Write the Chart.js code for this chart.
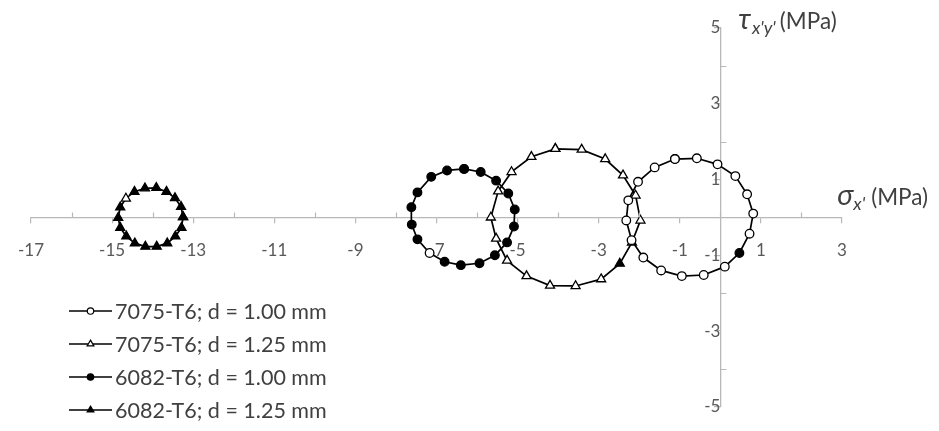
<!DOCTYPE html>
<html>
<head>
<meta charset="utf-8">
<script src="https://cdn.jsdelivr.net/npm/chart.js"></script>
<style>
  html, body { margin: 0; padding: 0; background: #fff; }
  #wrap { position: relative; width: 939px; height: 431px; }
</style>
</head>
<body>
<div id="wrap"><canvas id="c" width="939" height="431"></canvas></div>
<script>
// Mohr's circles: normal stress sigma_x' vs shear stress tau_x'y' (MPa)
const seriesLabels = [
  '7075-T6; d = 1.00 mm',
  '7075-T6; d = 1.25 mm',
  '6082-T6; d = 1.00 mm',
  '6082-T6; d = 1.25 mm'
];

// 7075-T6, d = 1.00 mm
const sigma7075_100 = [-1.12, -0.58, -0.07, 0.37, 0.66, 0.81, 0.72, 0.47, 0.11, -0.41, -0.95, -1.46, -1.90, -2.19, -2.32, -2.27, -2.03, -1.62];
const tau7075_100   = [1.54, 1.56, 1.40, 1.09, 0.61, 0.10, -0.43, -0.94, -1.30, -1.52, -1.55, -1.40, -1.06, -0.60, -0.08, 0.45, 0.94, 1.32];

// 7075-T6, d = 1.25 mm
const sigma7075_125 = [-4.07, -3.42, -2.84, -2.40, -2.09, -1.97, -2.18, -2.48, -2.94, -3.57, -4.20, -4.78, -5.26, -5.53, -5.66, -5.48, -5.15, -4.66];
const tau7075_125   = [1.81, 1.79, 1.54, 1.11, 0.58, -0.08, -0.66, -1.22, -1.63, -1.81, -1.80, -1.55, -1.14, -0.56, 0.00, 0.69, 1.20, 1.60];

// 6082-T6, d = 1.00 mm
const sigma6082_100 = [-6.32, -5.91, -5.53, -5.23, -5.07, -5.09, -5.26, -5.56, -5.94, -6.40, -6.80, -7.17, -7.47, -7.61, -7.62, -7.47, -7.13, -6.74];
const tau6082_100   = [1.28, 1.20, 0.97, 0.63, 0.21, -0.24, -0.66, -1.00, -1.21, -1.26, -1.17, -0.94, -0.58, -0.19, 0.27, 0.66, 1.07, 1.24];

// 6082-T6, d = 1.25 mm
const sigma6082_125 = [-13.25, -13.30, -13.45, -13.66, -13.91, -14.19, -14.45, -14.66, -14.80, -14.85, -14.80, -14.65, -14.44, -14.18, -13.90, -13.64, -13.44, -13.29];
const tau6082_125   = [0.01, 0.28, 0.51, 0.68, 0.78, 0.77, 0.68, 0.50, 0.27, -0.01, -0.27, -0.50, -0.68, -0.77, -0.77, -0.68, -0.50, -0.27];

// the one marker in each series drawn with the opposite fill
const markedPoint = [7, 7, 11, 7];

// axis ranges and labelled tick values
const sigmaMin = -17, sigmaMax = 3;
const tauMin = -5, tauMax = 5;
const sigmaTickLabels = [-17, -15, -13, -11, -9, -7, -5, -3, -1, 1, 3];
const tauTickLabels = [-5, -3, -1, 1, 3, 5];

const FONT = 'Lato, "Open Sans", "Liberation Sans", sans-serif';
const INK = '#000000';
const AXIS_GRAY = '#b8b8b8';
const LABEL_GRAY = '#595959';
const TEXT_DARK = '#404040';

// closed loop of points for one circle
function loop(xs, ys) {
  const pts = xs.map((x, i) => ({ x: x, y: ys[i] }));
  pts.push({ x: xs[0], y: ys[0] });
  return pts;
}
function fills(n, base, marked, other) {
  const arr = [];
  for (let i = 0; i <= n; i++) arr.push(i === marked || (i === n && marked === 0) ? other : base);
  return arr;
}

const styles = [
  { pointStyle: 'circle',   base: '#ffffff', other: '#000000', radius: 4.3 },
  { pointStyle: 'triangle', base: '#ffffff', other: '#000000', radius: 5.2 },
  { pointStyle: 'circle',   base: '#000000', other: '#ffffff', radius: 4.3 },
  { pointStyle: 'triangle', base: '#000000', other: '#ffffff', radius: 5.2 }
];
const xsAll = [sigma7075_100, sigma7075_125, sigma6082_100, sigma6082_125];
const ysAll = [tau7075_100, tau7075_125, tau6082_100, tau6082_125];

const datasets = seriesLabels.map((label, k) => ({
  label: label,
  data: loop(xsAll[k], ysAll[k]),
  showLine: true,
  borderColor: INK,
  borderWidth: 1.7,
  pointStyle: styles[k].pointStyle,
  pointRadius: styles[k].radius,
  pointHoverRadius: styles[k].radius,
  pointBorderColor: INK,
  pointBorderWidth: 1.3,
  pointBackgroundColor: fills(xsAll[k].length, styles[k].base, markedPoint[k], styles[k].other),
  _legendStyle: styles[k]
}));

// draws a marker like Chart.js circle/triangle point styles
function drawMarker(ctx, style, fill, x, y, r) {
  ctx.beginPath();
  if (style === 'circle') {
    ctx.arc(x, y, r, 0, Math.PI * 2);
  } else {
    const rad = -Math.PI / 2;
    ctx.moveTo(x + Math.cos(rad) * r, y + Math.sin(rad) * r);
    ctx.lineTo(x + Math.cos(rad + 2 * Math.PI / 3) * r, y + Math.sin(rad + 2 * Math.PI / 3) * r);
    ctx.lineTo(x + Math.cos(rad + 4 * Math.PI / 3) * r, y + Math.sin(rad + 4 * Math.PI / 3) * r);
  }
  ctx.closePath();
  ctx.fillStyle = fill;
  ctx.fill();
  ctx.lineWidth = 1.2;
  ctx.strokeStyle = INK;
  ctx.stroke();
}

// legend in the lower-left corner
const legendBlock = {
  id: 'legendBlock',
  afterDraw(chart) {
    const ctx = chart.ctx;
    const x0 = 69, x1 = 112, tx = 115;
    const y0 = 311, dy = 33;
    ctx.save();
    ctx.font = '21.5px ' + FONT;
    ctx.textBaseline = 'middle';
    chart.data.datasets.forEach((ds, i) => {
      const y = y0 + i * dy;
      ctx.beginPath();
      ctx.moveTo(x0, y);
      ctx.lineTo(x1, y);
      ctx.lineWidth = 1.7;
      ctx.strokeStyle = INK;
      ctx.stroke();
      const st = ds._legendStyle;
      drawMarker(ctx, st.pointStyle, st.base, (x0 + x1) / 2, y, st.radius * 0.75);
      ctx.fillStyle = TEXT_DARK;
      ctx.fillText(ds.label, tx, y + 1);
    });
    ctx.restore();
  }
};

// minor (unlabelled) tick marks sit on the inner side of each axis
const innerTicks = {
  id: 'innerTicks',
  afterDraw(chart) {
    const ctx = chart.ctx;
    const xs = chart.scales.x, ys = chart.scales.y;
    const ax = xs.getPixelForValue(0), ay = ys.getPixelForValue(0);
    ctx.save();
    ctx.strokeStyle = AXIS_GRAY;
    ctx.lineWidth = 1.2;
    ctx.beginPath();
    for (let v = sigmaMin; v <= sigmaMax; v++) {
      if (sigmaTickLabels.indexOf(v) >= 0) continue;
      const px = Math.round(xs.getPixelForValue(v)) + 0.5;
      ctx.moveTo(px, ay);
      ctx.lineTo(px, ay - 5);
    }
    for (let v = tauMin; v <= tauMax; v++) {
      if (tauTickLabels.indexOf(v) >= 0) continue;
      const py = Math.round(ys.getPixelForValue(v)) + 0.5;
      ctx.moveTo(ax, py);
      ctx.lineTo(ax + 6, py);
    }
    ctx.stroke();
    ctx.restore();
  }
};

// axis titles with italic Greek symbols and subscripts
const axisTitles = {
  id: 'axisTitles',
  afterDraw(chart) {
    const ctx = chart.ctx;
    const xs = chart.scales.x, ys = chart.scales.y;
    const x0 = xs.getPixelForValue(0), y0 = ys.getPixelForValue(0);
    ctx.save();
    ctx.textBaseline = 'alphabetic';
    ctx.fillStyle = TEXT_DARK;
    function run(parts, x, y) {
      parts.forEach(p => {
        ctx.font = p.font;
        ctx.fillText(p.text, x, y + (p.dy || 0));
        x += ctx.measureText(p.text).width + (p.gap || 0);
      });
    }
    run([
      { text: 'τ', font: 'italic 29px ' + FONT, gap: 1 },
      { text: "x'y'", font: 'italic 18px ' + FONT, dy: 5, gap: 4 },
      { text: '(MPa)', font: '22.5px ' + FONT }
    ], x0 + 18, ys.getPixelForValue(5) + 1);
    run([
      { text: 'σ', font: 'italic 29px ' + FONT, gap: 0 },
      { text: "x'", font: 'italic 18px ' + FONT, dy: 5, gap: 6 },
      { text: '(MPa)', font: '22.5px ' + FONT }
    ], xs.getPixelForValue(2.88), y0 - 12);
    ctx.restore();
  }
};

function oddLabel(list) {
  return function (value) {
    return list.indexOf(Math.round(value)) >= 0 && Math.abs(value - Math.round(value)) < 1e-6 ? String(Math.round(value)) : '';
  };
}
function labelledTickColor(list) {
  return function (ctx) {
    const v = ctx.tick ? Math.round(ctx.tick.value) : null;
    return list.indexOf(v) >= 0 ? AXIS_GRAY : 'rgba(0,0,0,0)';
  };
}

new Chart(document.getElementById('c'), {
  type: 'scatter',
  data: { datasets: datasets },
  options: {
    responsive: false,
    animation: false,
    events: [],
    layout: { padding: { left: 26, right: 97, top: 28, bottom: 9 } },
    plugins: { legend: { display: false }, tooltip: { enabled: false } },
    scales: {
      x: {
        type: 'linear',
        min: sigmaMin, max: sigmaMax,
        position: { y: 0 },
        border: { color: AXIS_GRAY, width: 1.3 },
        grid: { drawOnChartArea: false, drawTicks: true, tickLength: 5, color: labelledTickColor(sigmaTickLabels), lineWidth: 1.2 },
        ticks: {
          stepSize: 1, autoSkip: false, maxRotation: 0,
          padding: 18,
          color: LABEL_GRAY,
          font: { family: FONT, size: 17 },
          callback: oddLabel(sigmaTickLabels)
        }
      },
      y: {
        type: 'linear',
        min: tauMin, max: tauMax,
        position: { x: 0 },
        border: { color: AXIS_GRAY, width: 1.3 },
        grid: { drawOnChartArea: false, drawTicks: true, tickLength: 6, color: labelledTickColor(tauTickLabels), lineWidth: 1.2 },
        ticks: {
          stepSize: 1, autoSkip: false,
          padding: 14,
          color: LABEL_GRAY,
          font: { family: FONT, size: 17 },
          callback: oddLabel(tauTickLabels)
        }
      }
    }
  },
  plugins: [innerTicks, legendBlock, axisTitles]
});
</script>
</body>
</html>
